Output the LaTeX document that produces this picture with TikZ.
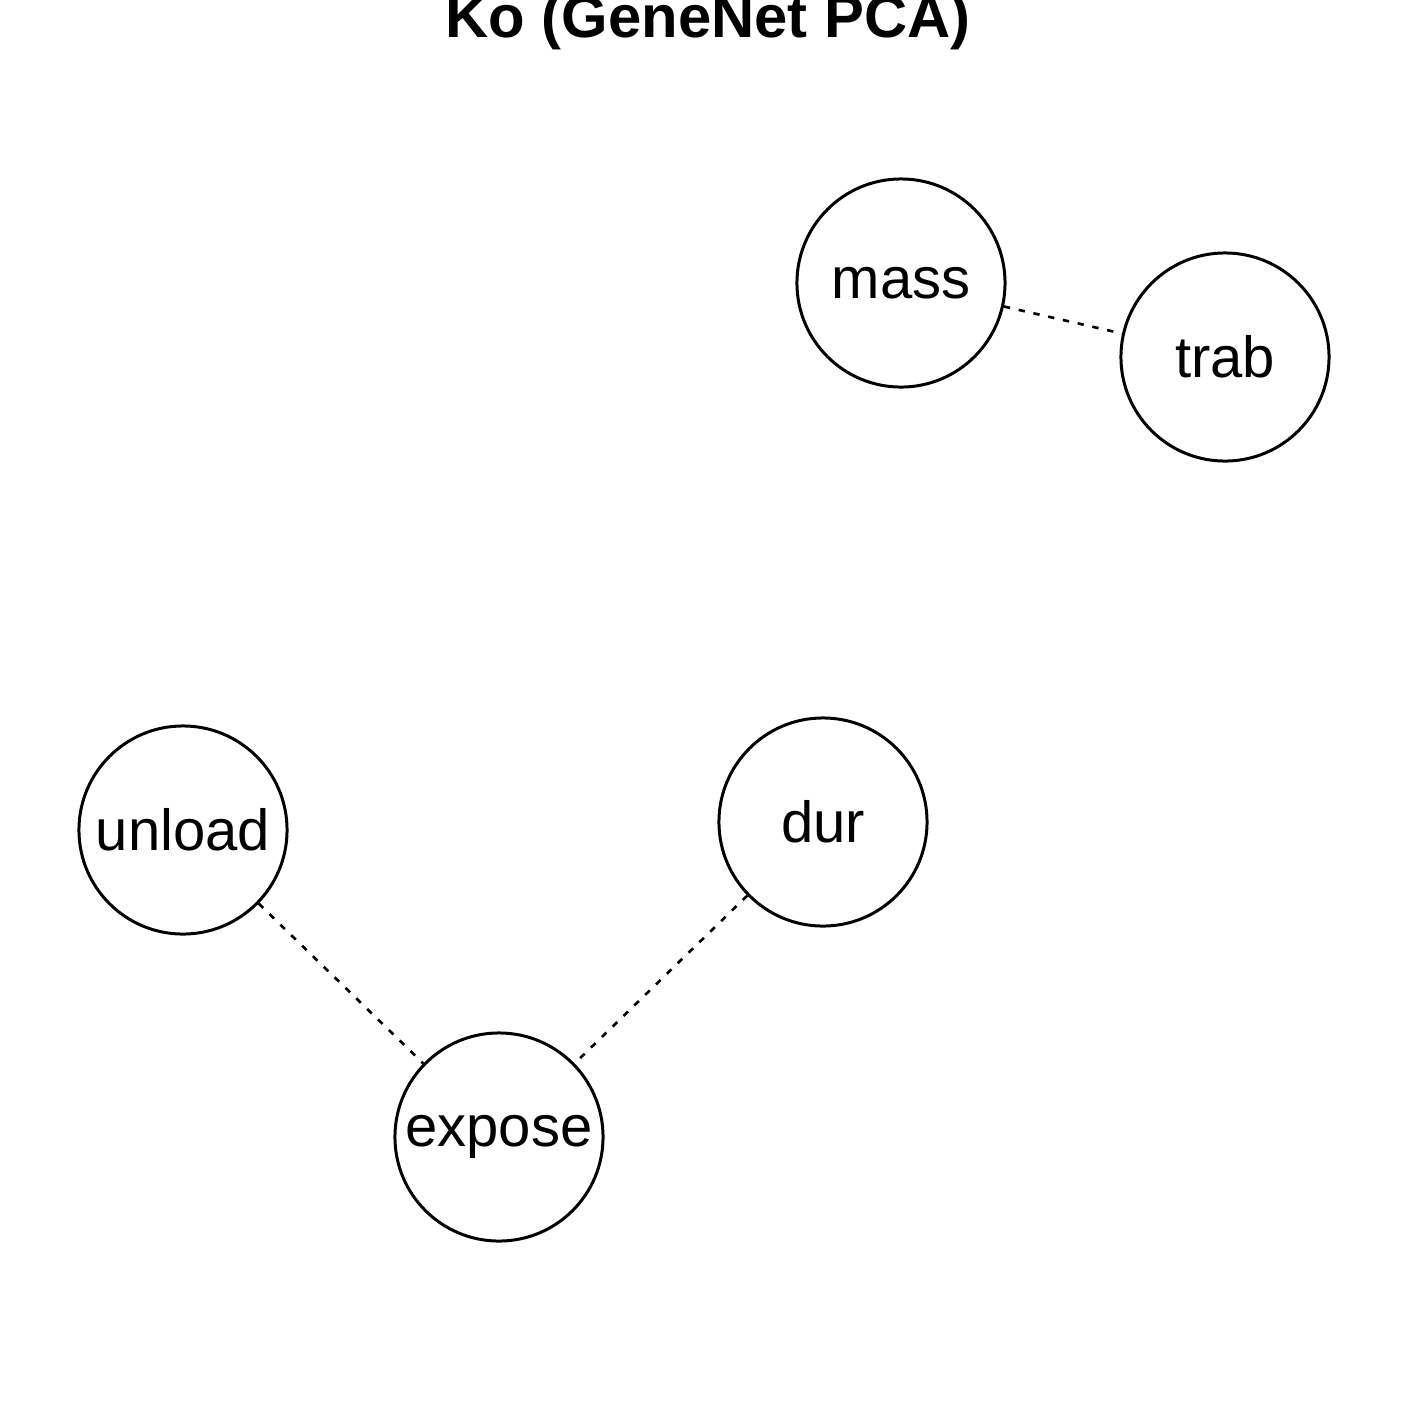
\documentclass[tikz,border=0pt]{standalone}
\usepackage{fontspec}
\setmainfont{Liberation Sans}
\begin{document}
\begin{tikzpicture}[x=0.01cm, y=-0.01cm,
    var/.style={draw, circle, line width=0.85pt, minimum size=2.08cm, inner sep=0pt, font=\fontsize{16.5}{20}\selectfont},
    edge/.style={line width=0.75pt, dash pattern=on 1.8pt off 2.5pt}]
            \useasboundingbox (0,0) rectangle (1417,1417);
            \node[anchor=base, font=\fontsize{17}{20}\selectfont\bfseries] (title) at (708,37) {Ko (GeneNet PCA)};

            \node[var] (mass) at (901,283) {mass};
            \node[var] (trab) at (1225,357) {trab};
            \node[var] (unload) at (183,830) {unload};
            \node[var] (dur) at (823,822) {dur};
            \node[var] (expose) at (499,1137) {expose};

            \draw[edge] (mass) -- (trab);
            \draw[edge] (unload) -- (expose);
            \draw[edge] (dur) -- (expose);
        \end{tikzpicture}
\end{document}
